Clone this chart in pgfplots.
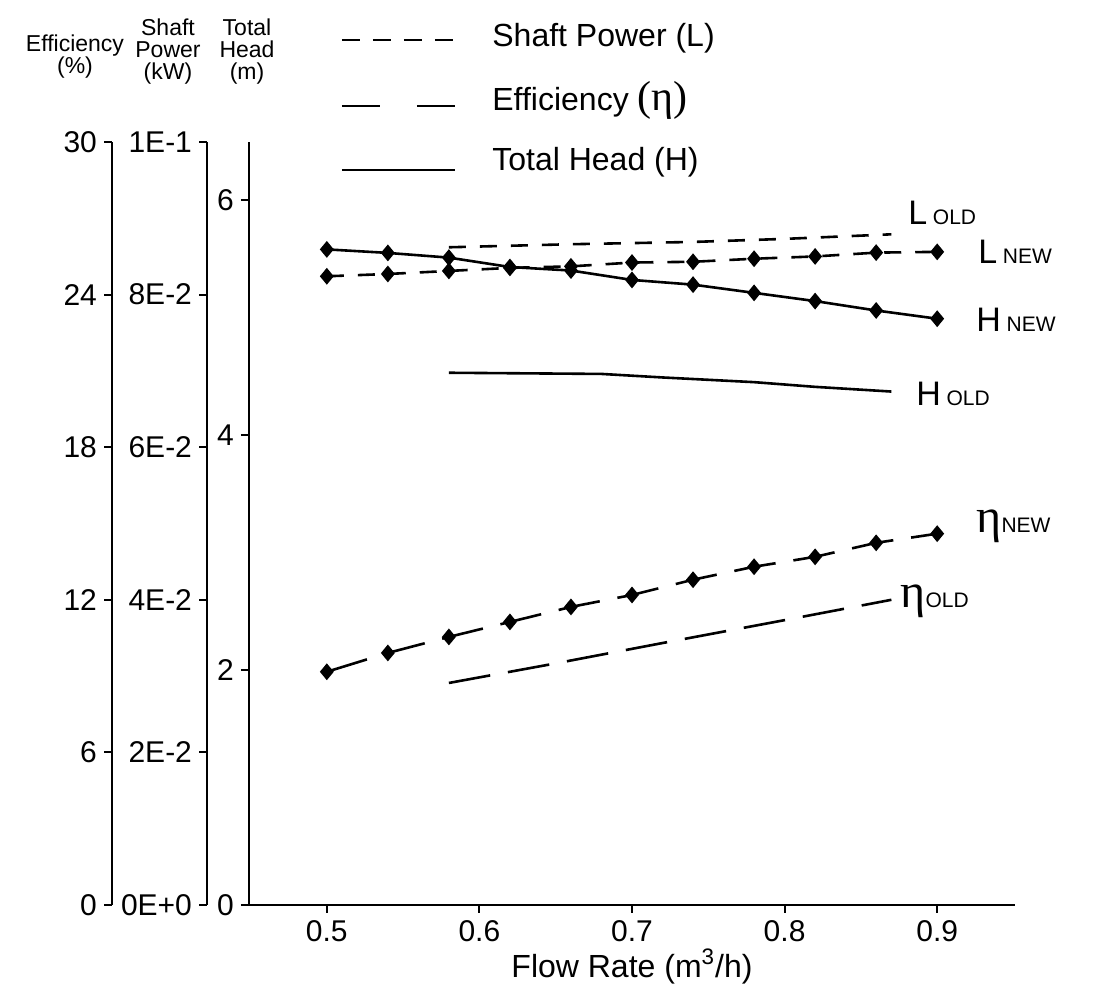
\documentclass[border=0pt]{standalone}
\usepackage{fontspec}
\setmainfont{Liberation Sans}
\newfontfamily\etafont{Liberation Serif}
\usepackage{pgfplots}
\pgfplotsset{compat=1.18}

\pgfplotstableread{
x y
0.50 5.58
0.54 5.55
0.58 5.51
0.62 5.43
0.66 5.40
0.70 5.32
0.74 5.28
0.78 5.21
0.82 5.14
0.86 5.06
0.90 4.99
}\Hnew
\pgfplotstableread{
x y
0.58 4.53
0.68 4.52
0.72 4.49
0.78 4.45
0.82 4.41
0.87 4.37
}\Hold
\pgfplotstableread{
x y
0.50 0.0824
0.54 0.0827
0.58 0.0831
0.62 0.0835
0.66 0.0837
0.70 0.0842
0.74 0.0843
0.78 0.0847
0.82 0.0850
0.86 0.0855
0.90 0.0856
}\Lnew
\pgfplotstableread{
x y
0.58 0.0862
0.66 0.0866
0.74 0.0869
0.80 0.0873
0.87 0.0879
}\Lold
\pgfplotstableread{
x y
0.50 9.17
0.54 9.91
0.58 10.54
0.62 11.13
0.66 11.72
0.70 12.19
0.74 12.79
0.78 13.30
0.82 13.69
0.86 14.24
0.90 14.60
}\Enew
\pgfplotstableread{
x y
0.58 8.73
0.65 9.50
0.72 10.30
0.80 11.20
0.87 12.00
}\Eold

\pgfplotsset{
  geom/.style={at={(0,0)}, anchor=south west, scale only axis,
    width=383pt, height=381.5pt, xmin=0.449, xmax=0.951, clip=false},
  yonly/.style={anchor=south west, scale only axis, width=1pt, height=381.5pt,
    xmin=0, xmax=1, axis x line=none, axis y line=left,
    axis line style={-, line width=1.3pt},
    every outer y axis line/.append style={-},
    tick align=outside, major tick length=4pt, ytick pos=left,
    every tick/.style={line width=1pt, black},
    ticklabel style={font=\fontsize{15}{15}\selectfont}},
}
\tikzset{
  Ldash/.style={dash pattern=on 8.5pt off 7pt},
  Edash/.style={dash pattern=on 21pt off 9pt},
  curve/.style={black, line width=1.3pt},
  dmark/.style={mark=diamond*, mark size=3.2pt, mark options={solid, fill=black, xscale=1.1}},
}

\begin{document}
\begin{tikzpicture}
\begin{scope}[x=0.5pt,y=-0.5pt,shift={(-249,-905)}]
\useasboundingbox (0,0) rectangle (1094,997);
\end{scope}

% efficiency y axis
\begin{axis}[yonly, at={(-68.5pt,0)}, ymin=0, ymax=30,
  ytick={0,6,12,18,24,30}, yticklabels={0,6,12,18,24,30}]
\end{axis}
% shaft power y axis
\begin{axis}[yonly, at={(-21pt,0)}, ymin=0, ymax=0.1,
  ytick={0,0.02,0.04,0.06,0.08,0.1},
  yticklabels={0E+0,2E-2,4E-2,6E-2,8E-2,1E-1}]
\end{axis}

% main axis (total head)
\begin{axis}[geom, ymin=0, ymax=6.494,
  axis x line=bottom, axis y line=left,
  axis line style={-, line width=1.3pt},
  every outer x axis line/.append style={-},
  every outer y axis line/.append style={-},
  tick align=outside, major tick length=4pt,
  every tick/.style={line width=1pt, black},
  xtick={0.5,0.6,0.7,0.8,0.9}, xticklabels={0.5,0.6,0.7,0.8,0.9},
  ytick={0,2,4,6}, yticklabels={0,2,4,6},
  ticklabel style={font=\fontsize{15}{15}\selectfont},
  xlabel={Flow Rate (m\textsuperscript{3}/h)},
  xlabel style={font=\fontsize{16}{16}\selectfont, yshift=3pt}]
\addplot[curve, dmark] table[x=x,y=y] {\Hnew};
\addplot[curve] table[x=x,y=y] {\Hold};
\end{axis}

% shaft power data
\begin{axis}[geom, hide axis, ymin=0, ymax=0.1]
\addplot[curve, Ldash, dmark] table[x=x,y=y] {\Lnew};
\addplot[curve, Ldash] table[x=x,y=y] {\Lold};
\end{axis}

% efficiency data
\begin{axis}[geom, hide axis, ymin=0, ymax=30]
\addplot[curve, Edash, dmark] table[x=x,y=y] {\Enew};
\addplot[curve, Edash] table[x=x,y=y] {\Eold};
\end{axis}

\begin{scope}[x=0.5pt,y=-0.5pt,shift={(-249,-905)}]
% headers
\node[align=center, font=\fontsize{11.5}{11}\selectfont] at (75,57) {Efficiency\\(\%)};
\node[align=center, font=\fontsize{11.5}{11}\selectfont] at (168,52) {Shaft\\Power\\(kW)};
\node[align=center, font=\fontsize{11.5}{11}\selectfont] at (247,52) {Total\\Head\\(m)};
% legend
\draw[line width=1.3pt, dash pattern=on 9pt off 6.5pt] (342,40) -- (455,40);
\draw[line width=1.3pt, dash pattern=on 19pt off 18.5pt] (342,106) -- (455,106);
\draw[line width=1.3pt] (342,170) -- (455,170);
\node[anchor=west, font=\fontsize{16}{16}\selectfont, inner sep=0pt] at (492,38) {Shaft Power (L)};
\node[anchor=west, font=\fontsize{16}{16}\selectfont, inner sep=0pt] at (492,100) {Efficiency {\etafont\fontsize{21}{21}\selectfont(η)}};
\node[anchor=west, font=\fontsize{16}{16}\selectfont, inner sep=0pt] at (492,162) {Total Head (H)};
% curve labels
\node[anchor=base west, inner sep=0pt, font=\fontsize{17}{17}\selectfont] at (908,225) {L\,{\fontsize{10.5}{10.5}\selectfont OLD}};
\node[anchor=base west, inner sep=0pt, font=\fontsize{17}{17}\selectfont] at (978,264) {L\,{\fontsize{10.5}{10.5}\selectfont NEW}};
\node[anchor=base west, inner sep=0pt, font=\fontsize{17}{17}\selectfont] at (976,332) {H\,{\fontsize{10.5}{10.5}\selectfont NEW}};
\node[anchor=base west, inner sep=0pt, font=\fontsize{17}{17}\selectfont] at (916,406) {H\,{\fontsize{10.5}{10.5}\selectfont OLD}};
\node[anchor=base west, inner sep=0pt, font=\fontsize{17}{17}\selectfont] at (976,533) {{\etafont\fontsize{24}{24}\selectfont η}{\fontsize{10.5}{10.5}\selectfont NEW}};
\node[anchor=base west, inner sep=0pt, font=\fontsize{17}{17}\selectfont] at (900,608) {{\etafont\fontsize{24}{24}\selectfont η}{\fontsize{10.5}{10.5}\selectfont OLD}};
\end{scope}
\end{tikzpicture}
\end{document}
